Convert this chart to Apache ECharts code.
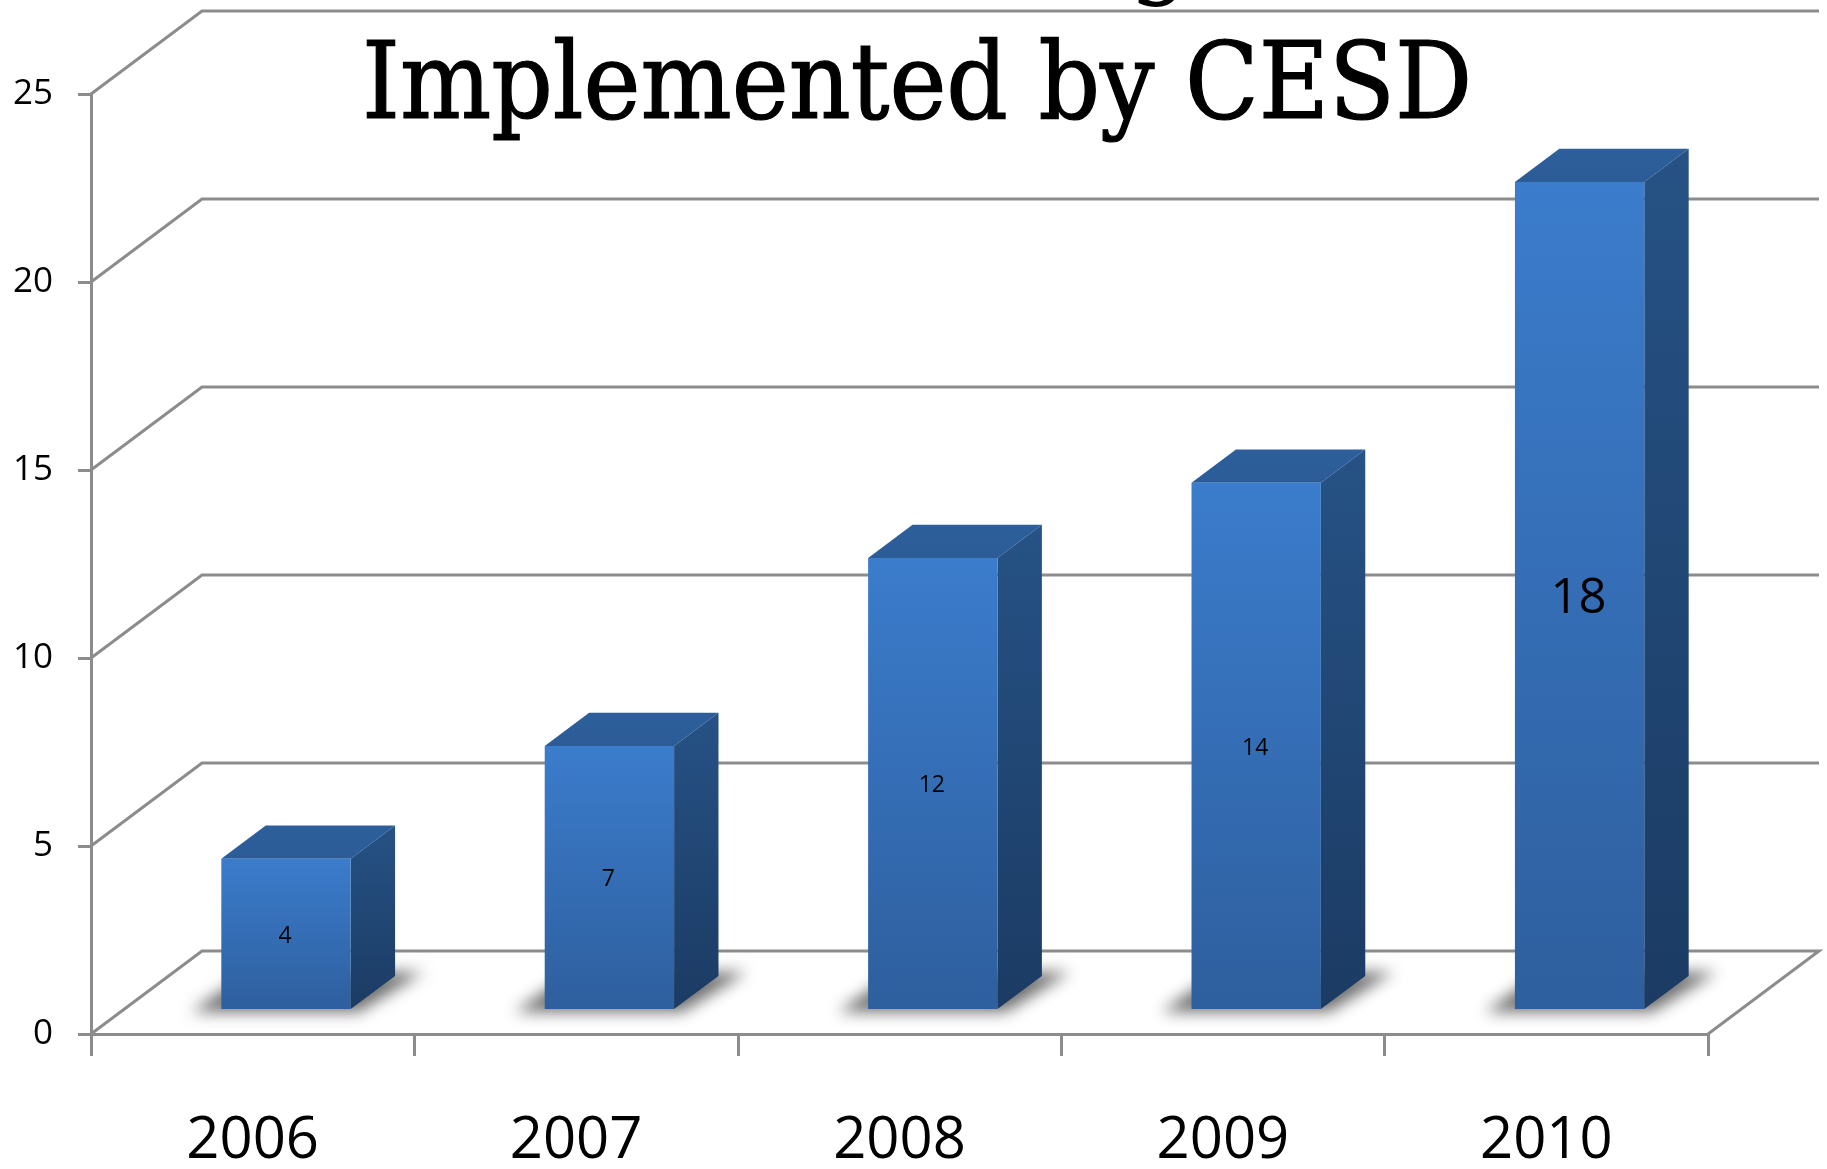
<!DOCTYPE html>
<html>
<head>
<meta charset="utf-8">
<style>html,body{margin:0;padding:0;background:#fff}#c{width:1827px;height:1169px}</style>
<script src="https://cdn.jsdelivr.net/npm/echarts@6/dist/echarts.min.js"></script>
</head>
<body>
<div id="c"></div>
<script>
// ---- data ----
const categories = ['2006', '2007', '2008', '2009', '2010'];
const barValues = [4, 7, 12, 14, 22];
const barLabels = ['4', '7', '12', '14', '18'];
const yTicks = [0, 5, 10, 15, 20, 25];
const chartTitle = 'Implemented by CESD';
const clippedTitleGlyph = 'g';

// ---- styling ----
const AXIS = '#8c8c8c';
const SANS = '"Open Sans", sans-serif';
const SERIF = '"DejaVu Serif Condensed", "DejaVu Serif", serif';
const WALL_DX = 111, WALL_DY = 83;
const BAR_RATIO = 0.4, BAR_FRONT = 0.3, BAR_DEPTH = 0.4;
const BIG_LABEL_INDEX = 4;
const SHADOW_SHIFT = 4000;

function grad(x, y, x2, y2, a, b) {
  return new echarts.graphic.LinearGradient(x, y, x2, y2, [{offset: 0, color: a}, {offset: 1, color: b}]);
}

function renderWall(params, api) {
  const cs = params.coordSys;
  const y = api.coord([0, api.value(1)])[1];
  const x0 = cs.x, x1 = cs.x + cs.width;
  const pts = [[x0, y], [x0 + WALL_DX, y - WALL_DY], [x1 + WALL_DX, y - WALL_DY]];
  if (params.dataIndex === 0) pts.push([x1, y]);
  return {
    type: 'polyline',
    shape: {points: pts},
    style: {stroke: AXIS, lineWidth: 3, fill: 'none'},
    silent: true
  };
}

function renderBar(params, api) {
  const i = api.value(0);
  const band = api.size([1, 0])[0];
  const center = api.coord([i, 0]);
  const topPt = api.coord([i, api.value(1)]);
  const w = band * BAR_RATIO;
  const ox = WALL_DX * BAR_FRONT, oy = WALL_DY * BAR_FRONT;
  const dx = WALL_DX * BAR_DEPTH, dy = WALL_DY * BAR_DEPTH;
  const l = center[0] + ox - w / 2, r = l + w;
  const b = center[1] - oy, t = topPt[1] - oy;
  const big = i === BIG_LABEL_INDEX;
  const fs = big ? 49 : 23;
  const s = SHADOW_SHIFT;
  return {
    type: 'group',
    children: [
      {
        // only the blurred shadow of this off-canvas footprint lands on the floor
        type: 'polygon',
        shape: {points: [
          [l - 30 - s, b + 3], [l + 12 - s, b - 26], [r + dx - s, b - dy - 4],
          [r + dx + 28 - s, b - dy - 4], [r + 8 - s, b + 3]
        ]},
        style: {
          fill: '#000',
          shadowBlur: 15,
          shadowColor: 'rgba(85,85,85,0.85)',
          shadowOffsetX: s
        },
        silent: true
      },
      {
        type: 'polygon',
        shape: {points: [[l, t], [l + dx, t - dy], [r + dx, t - dy], [r, t]]},
        style: {fill: grad(0, 0, 0, 1, '#2d5f9b', '#2b5c97')}
      },
      {
        type: 'polygon',
        shape: {points: [[r, t], [r + dx, t - dy], [r + dx, b - dy], [r, b]]},
        style: {fill: grad(0, 0, 0, 1, '#265285', '#1b3b63')}
      },
      {
        type: 'rect',
        shape: {x: l, y: t, width: w, height: b - t},
        style: {fill: grad(0, 0, 0, 1, '#3b7ccc', '#2e5f9e')}
      },
      {
        type: 'text',
        x: (l + r) / 2 - 1,
        y: (t + b) / 2 + 1 + fs * 0.05,
        style: {
          text: barLabels[i],
          fontFamily: SANS,
          fontSize: fs,
          fill: '#000',
          align: 'center',
          verticalAlign: 'middle'
        }
      }
    ]
  };
}

const chart = echarts.init(document.getElementById('c'), null, {renderer: 'canvas'});
chart.setOption({
  animation: false,
  backgroundColor: '#fff',
  title: {
    text: chartTitle,
    left: 912,
    textAlign: 'center',
    top: 32,
    textStyle: {
      fontFamily: SERIF, fontWeight: 'normal', fontSize: 107, color: '#000',
      textBorderColor: '#000', textBorderWidth: 1.2
    }
  },
  graphic: [{
    type: 'text',
    x: 1129,
    y: -98,
    silent: true,
    style: {text: clippedTitleGlyph, fontFamily: SERIF, fontSize: 107, fill: '#000'}
  }],
  grid: {left: 91, right: 119, top: 94, bottom: 135, containLabel: false, outerBoundsMode: 'none'},
  xAxis: {
    type: 'category',
    data: categories,
    boundaryGap: true,
    axisLine: {show: true, lineStyle: {color: AXIS, width: 3}},
    axisTick: {show: true, alignWithLabel: false, length: 22, lineStyle: {color: AXIS, width: 3}},
    axisLabel: {margin: 78, fontFamily: SANS, fontSize: 58, color: '#000', interval: 0},
    splitLine: {show: false}
  },
  yAxis: {
    type: 'value',
    min: 0,
    max: 25,
    interval: 5,
    axisLine: {show: true, lineStyle: {color: AXIS, width: 3}},
    axisTick: {show: true, length: 13, lineStyle: {color: AXIS, width: 3}},
    axisLabel: {margin: 38, fontFamily: SANS, fontSize: 35, color: '#000', padding: [9, 0, 0, 0]},
    splitLine: {show: false}
  },
  series: [
    {
      type: 'custom',
      name: 'walls',
      coordinateSystem: 'cartesian2d',
      clip: false,
      z: 1,
      encode: {x: 0, y: 1},
      data: yTicks.map(v => [0, v]),
      renderItem: renderWall
    },
    {
      type: 'custom',
      name: 'bars',
      coordinateSystem: 'cartesian2d',
      clip: false,
      z: 3,
      encode: {x: 0, y: 1},
      data: barValues.map((v, i) => [i, v]),
      renderItem: renderBar
    }
  ]
});
</script>
</body>
</html>
